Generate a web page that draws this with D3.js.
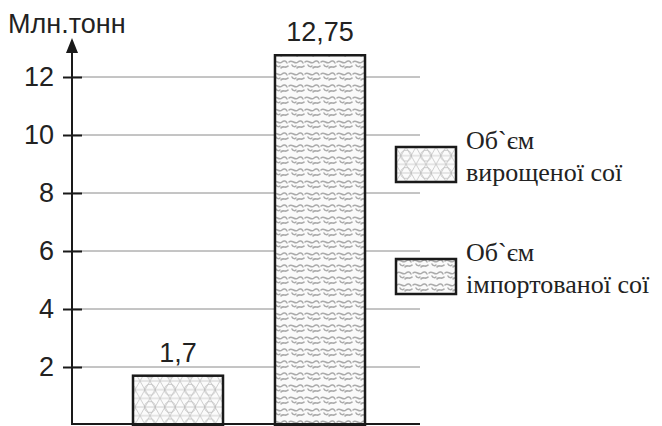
<!DOCTYPE html>
<html>
<head>
<meta charset="utf-8">
<script src="https://cdn.jsdelivr.net/npm/d3@7"></script>
<style>
  body { margin: 0; background: #fff; }
  .tick-label { font-family: "Liberation Sans", Arial, sans-serif; font-size: 27px; fill: #222; }
</style>
</head>
<body>
<div id="chart"></div>
<script>
// data
const categories = ["grown", "imported"];
const values = [1.7, 12.75];
const valueLabels = ["1,7", "12,75"];
const legendLines = [["Об`єм", "вирощеної сої"], ["Об`єм", "імпортованої сої"]];
const yTicks = [2, 4, 6, 8, 10, 12];
const yTitle = "Млн.тонн";

const width = 662, height = 426;

const svg = d3.select("#chart")
  .append("svg")
  .attr("width", width)
  .attr("height", height);

// patterns for bars
const defs = svg.append("defs");

const mesh = defs.append("pattern")
  .attr("id", "mesh")
  .attr("patternUnits", "userSpaceOnUse")
  .attr("width", 20)
  .attr("height", 17.32);
mesh.append("rect").attr("width", 20).attr("height", 17.32).attr("fill", "#fbfbfb");
mesh.append("path")
  .attr("d", "M0,0 L20,0 M0,8.66 L20,8.66 M0,17.32 L20,17.32 M0,0 L10,17.32 M10,0 L20,17.32 M10,0 L0,17.32 M20,0 L10,17.32 M-5,8.66 L0,0 M20,17.32 L25,8.66")
  .attr("stroke", "#c4c4c4")
  .attr("stroke-width", 0.8)
  .attr("fill", "none");
mesh.append("circle").attr("cx", 10).attr("cy", 8.66).attr("r", 5.5).attr("fill", "none").attr("stroke", "#bdbdbd").attr("stroke-width", 0.8);

const swirl = defs.append("pattern")
  .attr("id", "swirl")
  .attr("patternUnits", "userSpaceOnUse")
  .attr("width", 16)
  .attr("height", 12);
swirl.append("rect").attr("width", 16).attr("height", 12).attr("fill", "#fafafa");
swirl.append("path")
  .attr("d", "M1,2 C4,-1 7,5 10,2 C12,0 14,1 15,3 M9,8 C11,5 14,9 16,6 M-7,8 C-5,5 -2,9 0,6 M4,5 C5,7 7,7 8,6")
  .attr("stroke", "#ababab")
  .attr("stroke-width", 1.5)
  .attr("stroke-linecap", "round")
  .attr("fill", "none");

// scales
const xScale = d3.scaleBand()
  .domain(categories)
  .range([133, 365])
  .paddingInner(0.366)
  .paddingOuter(0);

const yScale = d3.scaleLinear()
  .domain([0, 12])
  .range([425, 77]);

const axisX = 72, gridEnd = 420;

// grid lines
svg.append("g")
  .selectAll("line")
  .data(yTicks)
  .join("line")
  .attr("x1", axisX)
  .attr("x2", gridEnd)
  .attr("y1", d => yScale(d))
  .attr("y2", d => yScale(d))
  .attr("stroke", "#8a8a8a")
  .attr("stroke-width", 1);

// bars
const fills = ["url(#mesh)", "url(#swirl)"];
svg.append("g")
  .selectAll("rect")
  .data(values)
  .join("rect")
  .attr("x", (d, i) => xScale(categories[i]))
  .attr("y", d => yScale(d))
  .attr("width", xScale.bandwidth())
  .attr("height", d => yScale(0) - yScale(d))
  .attr("fill", (d, i) => fills[i])
  .attr("stroke", "#1a1a1a")
  .attr("stroke-width", 2.5);

// value labels
svg.append("g")
  .selectAll("text")
  .data(values)
  .join("text")
  .attr("class", "tick-label")
  .attr("x", (d, i) => xScale(categories[i]) + xScale.bandwidth() / 2)
  .attr("y", d => yScale(d) - 14)
  .attr("text-anchor", "middle")
  .text((d, i) => valueLabels[i]);

// baseline
svg.append("line")
  .attr("x1", axisX).attr("x2", gridEnd)
  .attr("y1", yScale(0) - 1).attr("y2", yScale(0) - 1)
  .attr("stroke", "#1a1a1a").attr("stroke-width", 2);

// left axis with arrow
const leftAxis = d3.axisLeft(yScale)
  .tickValues(yTicks)
  .tickSize(0)
  .tickPadding(18)
  .tickFormat(d3.format("d"));

const yAxis = svg.append("g")
  .attr("transform", `translate(${axisX},0)`)
  .call(leftAxis);
yAxis.select(".domain").remove();
yAxis.selectAll("text").attr("class", "tick-label").attr("font-size", null).attr("font-family", null).attr("fill", null);

yAxis.selectAll(".tick").append("line")
  .attr("x1", -9).attr("x2", 10)
  .attr("stroke", "#1a1a1a").attr("stroke-width", 2);

yAxis.append("line")
  .attr("x1", 0).attr("x2", 0)
  .attr("y1", 50).attr("y2", yScale(0))
  .attr("stroke", "#1a1a1a").attr("stroke-width", 2);
yAxis.append("path")
  .attr("d", "M0,38 L-6,53 L6,53 Z")
  .attr("fill", "#1a1a1a");

svg.append("text")
  .attr("class", "tick-label")
  .attr("x", 8)
  .attr("y", 33)
  .text(yTitle);

// legend
const legendTop = [147, 259];
const legend = svg.append("g")
  .selectAll("g")
  .data(legendLines)
  .join("g")
  .attr("transform", (d, i) => `translate(396,${legendTop[i]})`);

legend.append("rect")
  .attr("width", 60)
  .attr("height", 35)
  .attr("fill", (d, i) => fills[i])
  .attr("stroke", "#1a1a1a")
  .attr("stroke-width", 2.5);

legend.append("text")
  .attr("font-family", "'Liberation Serif', 'DejaVu Serif', serif")
  .attr("font-size", "26px")
  .attr("fill", "#222")
  .attr("x", 70)
  .attr("y", 2)
  .selectAll("tspan")
  .data(d => d)
  .join("tspan")
  .attr("x", 70)
  .attr("dy", (d, i) => i === 0 ? 0 : 32)
  .text(d => d);
</script>
</body>
</html>
